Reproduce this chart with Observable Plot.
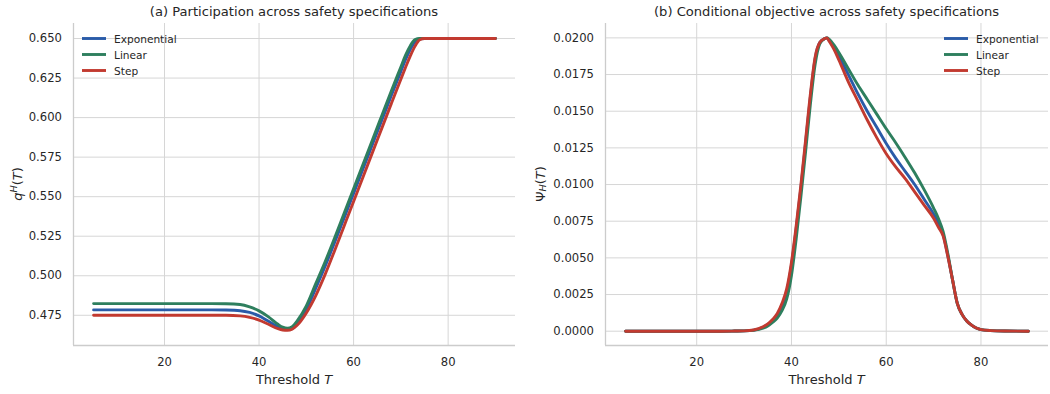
<!DOCTYPE html>
<html><head><meta charset="utf-8">
<script src="https://cdn.jsdelivr.net/npm/d3@7"></script>
<script src="https://cdn.jsdelivr.net/npm/@observablehq/plot@0.6"></script>
<style>
body{margin:0;background:#fff;}
#wrap{display:flex;width:1050px;height:394px;}
#wrap svg{display:block;font-family:"DejaVu Sans",sans-serif;}
</style></head><body><div id="wrap"></div>
<script>
const seriesNames = ["Exponential", "Linear", "Step"];
const seriesColors = ["#2a5ba8", "#2e7f5e", "#c23a30"];
const panelTitles = ["(a) Participation across safety specifications", "(b) Conditional objective across safety specifications"];
const xTicks = [20, 40, 60, 80];
const xDomain = [0.75, 94.25];

// Panel (a): q^H(T)
const tQ = [5, 10, 15, 20, 25, 30, 33, 36, 38, 40, 42, 44, 45, 46, 47, 48,
  50, 52, 54, 56, 58, 60, 62, 64, 66, 68, 70, 71, 72, 73, 74, 75, 80, 85, 90];
const qExponential = [0.4784, 0.4784, 0.4784, 0.4784, 0.4784, 0.4784, 0.4783, 0.4779, 0.4768, 0.4746, 0.4712, 0.4678, 0.4664, 0.4660, 0.4667, 0.4692,
  0.4788, 0.4922, 0.5062, 0.5212, 0.5366, 0.5521, 0.5676, 0.5831, 0.5986, 0.6141, 0.6292, 0.6368, 0.6432, 0.6480, 0.6499, 0.6500, 0.6500, 0.6500, 0.6500];
const qLinear = [0.4824, 0.4824, 0.4824, 0.4824, 0.4824, 0.4824, 0.4823, 0.4818, 0.4803, 0.4778, 0.4740, 0.4693, 0.4675, 0.4668, 0.4677, 0.4712,
  0.4810, 0.4950, 0.5090, 0.5240, 0.5395, 0.5550, 0.5705, 0.5860, 0.6015, 0.6170, 0.6320, 0.6395, 0.6455, 0.6493, 0.6500, 0.6500, 0.6500, 0.6500, 0.6500];
const qStep = [0.4750, 0.4750, 0.4750, 0.4750, 0.4750, 0.4750, 0.4750, 0.4746, 0.4737, 0.4720, 0.4693, 0.4665, 0.4657, 0.4655, 0.4662, 0.4685,
  0.4765, 0.4875, 0.5010, 0.5160, 0.5315, 0.5470, 0.5625, 0.5780, 0.5935, 0.6090, 0.6243, 0.6318, 0.6390, 0.6452, 0.6492, 0.6500, 0.6500, 0.6500, 0.6500];
const qTicks = [0.475, 0.500, 0.525, 0.550, 0.575, 0.600, 0.625, 0.650];
const qDomain = [0.4559, 0.6595];

// Panel (b): Psi_H(T)
const tPsi = [5, 10, 15, 20, 25, 28, 30, 32, 34, 35, 36, 37, 38, 39, 40, 41, 42, 43, 44, 45, 46, 47, 47.5,
  48, 49, 50, 52, 54, 56, 58, 60, 62, 64, 66, 68, 70, 71, 72, 73, 74, 75, 76, 77, 78, 79, 80, 82, 85, 90];
const psiExponential = [0, 0, 0, 0, 0, 0.00001, 0.00002, 0.00007, 0.00027, 0.00045, 0.00070, 0.00110, 0.00170, 0.00270, 0.00450, 0.00700, 0.00980, 0.01290, 0.01600, 0.01860, 0.01970, 0.01995, 0.02000,
  0.01980, 0.01935, 0.01875, 0.01750, 0.01620, 0.01500, 0.01390, 0.01280, 0.01180, 0.01090, 0.01000, 0.00900, 0.00800, 0.00740, 0.00660, 0.00515, 0.00350, 0.00190, 0.00115, 0.00070, 0.00042, 0.00022, 0.00011, 0.00004, 0.00001, 0];
const psiLinear = [0, 0, 0, 0, 0, 0.00001, 0.00002, 0.00006, 0.00020, 0.00035, 0.00060, 0.00090, 0.00140, 0.00220, 0.00380, 0.00630, 0.00920, 0.01230, 0.01550, 0.01820, 0.01960, 0.01995, 0.02000,
  0.01990, 0.01950, 0.01900, 0.01790, 0.01680, 0.01580, 0.01480, 0.01380, 0.01285, 0.01185, 0.01080, 0.00965, 0.00840, 0.00770, 0.00680, 0.00530, 0.00350, 0.00190, 0.00115, 0.00070, 0.00042, 0.00022, 0.00011, 0.00004, 0.00001, 0];
const psiStep = [0, 0, 0, 0, 0, 0.00001, 0.00002, 0.00008, 0.00030, 0.00050, 0.00080, 0.00120, 0.00190, 0.00290, 0.00470, 0.00720, 0.01000, 0.01310, 0.01620, 0.01870, 0.01970, 0.01995, 0.02000,
  0.01975, 0.01920, 0.01850, 0.01700, 0.01570, 0.01440, 0.01320, 0.01210, 0.01120, 0.01040, 0.00950, 0.00860, 0.00770, 0.00710, 0.00650, 0.00510, 0.00350, 0.00190, 0.00115, 0.00070, 0.00042, 0.00022, 0.00011, 0.00004, 0.00001, 0];
const psiTicks = [0, 0.0025, 0.005, 0.0075, 0.01, 0.0125, 0.015, 0.0175, 0.02];
const psiDomain = [-0.000975, 0.02098];

const TEXT = "#262626", GRID = "#d6d6d6", SPINE = "#cccccc";
const W = 525, H = 394, MT = 23, MB = 49;

function tidy(t, series) {
  const out = [];
  series.forEach((vals, i) => vals.forEach((v, j) => out.push({T: t[j], v, s: seriesNames[i]})));
  return out;
}

function panel(opts) {
  const {t, series, yDomain, yTicks, yFmt, ml, mr, title, yLabel, legendX} = opts;
  const data = tidy(t, series);
  const node = Plot.plot({
    width: W, height: H, marginLeft: ml, marginRight: mr, marginTop: MT, marginBottom: MB,
    style: {fontFamily: "DejaVu Sans, sans-serif", fontSize: "11.5px", color: TEXT, background: "white", overflow: "visible"},
    x: {domain: xDomain, label: null},
    y: {domain: yDomain, label: null},
    color: {domain: seriesNames, range: seriesColors},
    marks: [
      Plot.gridX(xTicks, {stroke: GRID, strokeOpacity: 1, strokeWidth: 1}),
      Plot.gridY(yTicks, {stroke: GRID, strokeOpacity: 1, strokeWidth: 1}),
      Plot.ruleX([xDomain[0]], {stroke: SPINE, strokeWidth: 1.3}),
      Plot.ruleY([yDomain[0]], {stroke: SPINE, strokeWidth: 1.3}),
      Plot.axisX(xTicks, {tickSize: 0, tickPadding: 12, fontSize: 11.6, label: null}),
      Plot.axisY(yTicks, {tickSize: 0, tickPadding: 11.6, fontSize: 11.6, tickFormat: yFmt, label: null}),
      Plot.line(data, {x: "T", y: "v", z: "s", stroke: "s", strokeWidth: 2.9, curve: "monotone-x"})
    ]
  });
  const svg = d3.select(node);
  const cx = ml + (W - ml - mr) / 2;
  const cy = MT + (H - MT - MB) / 2;
  // title
  svg.append("text").attr("x", cx).attr("y", 15.5).attr("text-anchor", "middle")
    .attr("font-size", 13.1).attr("fill", TEXT).text(title);
  // x label
  const xl = svg.append("text").attr("x", cx).attr("y", 384).attr("text-anchor", "middle")
    .attr("font-size", 13).attr("fill", TEXT);
  xl.append("tspan").text("Threshold ");
  xl.append("tspan").attr("font-style", "italic").text("T");
  // y label
  const yl = svg.append("text").attr("transform", `translate(${yLabel.x},${cy}) rotate(-90)`)
    .attr("text-anchor", "middle").attr("dominant-baseline", "central")
    .attr("font-size", 13).attr("fill", TEXT);
  yLabel.build(yl);
  // legend
  const lg = svg.append("g");
  seriesNames.forEach((name, i) => {
    const y = 38.5 + i * 16;
    lg.append("line").attr("x1", legendX).attr("x2", legendX + 24).attr("y1", y).attr("y2", y)
      .attr("stroke", seriesColors[i]).attr("stroke-width", 2.9);
    lg.append("text").attr("x", legendX + 32).attr("y", y).attr("dominant-baseline", "central")
      .attr("text-anchor", "start").attr("font-size", 10.6).attr("fill", TEXT).text(name);
  });
  return node;
}

const wrap = document.getElementById("wrap");
wrap.appendChild(panel({
  t: tQ, series: [qExponential, qLinear, qStep], yDomain: qDomain, yTicks: qTicks,
  yFmt: d3.format(".3f"), ml: 73, mr: 10, title: panelTitles[0], legendX: 82,
  yLabel: {x: 17, build: (el) => {
    el.append("tspan").attr("font-style", "italic").text("q");
    el.append("tspan").attr("font-style", "italic").attr("font-size", 9.5).attr("baseline-shift", "35%").text("H");
    el.append("tspan").text("(");
    el.append("tspan").attr("font-style", "italic").text("T");
    el.append("tspan").text(")");
  }}
}));
wrap.appendChild(panel({
  t: tPsi, series: [psiExponential, psiLinear, psiStep], yDomain: psiDomain, yTicks: psiTicks,
  yFmt: d3.format(".4f"), ml: 80, mr: 2, title: panelTitles[1], legendX: 419,
  yLabel: {x: 15, build: (el) => {
    el.append("tspan").text("Ψ");
    el.append("tspan").attr("font-style", "italic").attr("font-size", 9.5).attr("baseline-shift", "-20%").text("H");
    el.append("tspan").text("(");
    el.append("tspan").attr("font-style", "italic").text("T");
    el.append("tspan").text(")");
  }}
}));
</script></body></html>
